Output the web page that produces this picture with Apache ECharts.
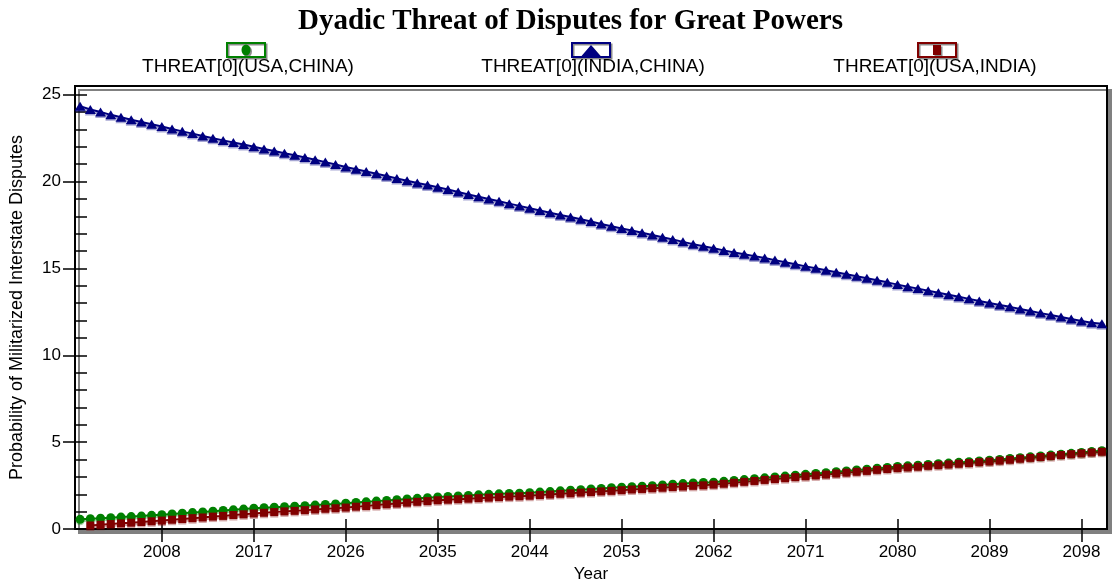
<!DOCTYPE html>
<html>
<head>
<meta charset="utf-8">
<script src="https://cdn.jsdelivr.net/npm/echarts@6/dist/echarts.min.js"></script>
<style>
html,body{margin:0;padding:0;background:#fff;}
#chart{width:1112px;height:588px;}
</style>
</head>
<body>
<div id="chart"></div>
<script>
const titleText = 'Dyadic Threat of Disputes for Great Powers';
const xAxisName = 'Year';
const yAxisName = 'Probability of Militarized Interstate Disputes';
const seriesNames = ['THREAT[0](USA,CHINA)', 'THREAT[0](INDIA,CHINA)', 'THREAT[0](USA,INDIA)'];
const firstYear = 2000, lastYear = 2100;
const years = [];
for (let y = firstYear; y <= lastYear; y++) years.push(String(y));
const xTickLabels = ['2008','2017','2026','2035','2044','2053','2062','2071','2080','2089','2098'];
const yTickStep = 5;

const usaChina = [
0.56,0.60,0.63,0.66,0.69,0.72,0.75,0.79,0.83,0.87,
0.91,0.95,0.99,1.03,1.07,1.11,1.15,1.20,1.23,1.26,
1.29,1.32,1.35,1.38,1.42,1.45,1.49,1.53,1.57,1.61,
1.65,1.69,1.73,1.77,1.81,1.85,1.88,1.91,1.94,1.97,
2.00,2.03,2.05,2.07,2.09,2.13,2.16,2.20,2.24,2.27,
2.31,2.34,2.38,2.41,2.44,2.47,2.50,2.54,2.58,2.62,
2.66,2.68,2.70,2.75,2.80,2.85,2.90,2.95,3.00,3.05,
3.10,3.15,3.20,3.25,3.30,3.35,3.40,3.45,3.50,3.55,
3.60,3.64,3.68,3.72,3.76,3.80,3.84,3.88,3.92,3.96,
4.01,4.06,4.11,4.16,4.21,4.26,4.31,4.36,4.41,4.46,
4.51];

const indiaChina = [
24.34,24.15,24.00,23.84,23.70,23.56,23.43,23.30,23.17,23.03,
22.89,22.76,22.62,22.49,22.37,22.25,22.13,22.00,21.88,21.76,
21.63,21.51,21.38,21.25,21.12,20.98,20.84,20.71,20.58,20.45,
20.32,20.18,20.05,19.92,19.80,19.67,19.54,19.40,19.26,19.13,
19.00,18.87,18.73,18.60,18.47,18.34,18.21,18.08,17.96,17.83,
17.70,17.56,17.43,17.30,17.18,17.05,16.93,16.80,16.67,16.53,
16.40,16.28,16.16,16.04,15.92,15.82,15.71,15.60,15.48,15.36,
15.24,15.12,15.01,14.90,14.78,14.67,14.55,14.44,14.32,14.20,
14.07,13.95,13.84,13.72,13.60,13.49,13.37,13.25,13.13,13.01,
12.90,12.79,12.67,12.55,12.43,12.32,12.21,12.09,11.98,11.88,
11.82];

const usaIndia = [
null,0.21,0.25,0.29,0.33,0.37,0.41,0.45,0.49,0.54,
0.58,0.63,0.67,0.72,0.76,0.81,0.85,0.90,0.94,0.98,
1.02,1.05,1.09,1.13,1.17,1.20,1.24,1.29,1.33,1.38,
1.43,1.47,1.52,1.57,1.61,1.66,1.69,1.72,1.75,1.78,
1.81,1.84,1.87,1.89,1.92,1.96,1.99,2.03,2.06,2.10,
2.13,2.17,2.20,2.24,2.28,2.31,2.35,2.38,2.42,2.45,
2.49,2.52,2.56,2.61,2.67,2.72,2.77,2.83,2.88,2.93,
2.99,3.04,3.09,3.14,3.20,3.25,3.30,3.35,3.41,3.46,
3.51,3.55,3.59,3.64,3.68,3.72,3.76,3.80,3.85,3.89,
3.94,3.99,4.05,4.10,4.15,4.20,4.26,4.31,4.36,4.41,
4.45];

const colors = ['#008000', '#000080', '#800000'];
const shadowColors = ['rgba(0,128,0,0.35)', 'rgba(0,0,128,0.35)', 'rgba(128,0,0,0.35)'];
const symbols = ['circle', 'triangle', 'rect'];
const symbolSizes = [9, [11, 9], 8];

const box = 'M0 0 L40 0 L40 16 L0 16 Z M2 2 L2 14 L38 14 L38 2 Z ';
const legendIcons = [
  'path://' + box + 'M15.5 8 A4.5 5.5 0 1 1 24.5 8 A4.5 5.5 0 1 1 15.5 8 Z',
  'path://' + box + 'M10.5 14 L20 3 L29.5 14 Z',
  'path://' + box + 'M16 3 L24 3 L24 13 L16 13 Z'
];
const legendLeft = [226, 571, 917];
const legendTextX = [248, 593, 935];

const font = 'Liberation Sans, Arial, sans-serif';
const isTickYear = (idx, val) => xTickLabels.indexOf(String(val)) >= 0;

const chart = echarts.init(document.getElementById('chart'), null, {renderer: 'canvas'});
chart.setOption({
  animation: false,
  backgroundColor: '#fff',
  title: {
    text: titleText, left: 298, top: 7, padding: 0,
    textStyle: {fontFamily: 'Liberation Serif, Times New Roman, serif', fontWeight: 'bold', fontSize: 29, color: '#000'}
  },
  legend: seriesNames.map((n, i) => ({
    data: [n], left: legendLeft[i], top: 42, padding: 0,
    itemWidth: 40, itemHeight: 16, icon: legendIcons[i],
    formatter: () => '',
    selectedMode: false,
    itemStyle: {color: colors[i], borderWidth: 0, shadowColor: 'rgba(0,0,0,0.45)', shadowOffsetX: 1.5, shadowOffsetY: 1.5, shadowBlur: 0}
  })),
  graphic: seriesNames.map((n, i) => ({
    type: 'text', x: legendTextX[i], y: 67,
    style: {text: n, fill: '#000', fontSize: 19, fontFamily: font, align: 'center', verticalAlign: 'middle', textAlign: 'center', textVerticalAlign: 'middle'}
  })),
  grid: {
    left: 75, right: 5, top: 86, bottom: 51, show: true,
    backgroundColor: '#fff', borderColor: '#000', borderWidth: 2,
    shadowColor: '#808080', shadowOffsetX: 4, shadowOffsetY: 4, shadowBlur: 0
  },
  xAxis: [
    {
      type: 'category', data: years, boundaryGap: true, position: 'bottom',
      name: xAxisName, nameLocation: 'middle', nameGap: 33,
      nameTextStyle: {fontFamily: font, fontSize: 17, color: '#000'},
      axisLine: {lineStyle: {color: '#000', width: 2}},
      axisTick: {show: true, inside: false, length: 13, alignWithLabel: true, interval: isTickYear, lineStyle: {color: '#000', width: 1.5}},
      axisLabel: {interval: isTickYear, margin: 15, fontFamily: font, fontSize: 17, color: '#000'},
      splitLine: {show: false}
    },
    {
      type: 'category', data: years, boundaryGap: true, position: 'bottom', offset: 0,
      axisLine: {show: false},
      axisTick: {show: true, inside: true, length: 10, alignWithLabel: true, interval: isTickYear, lineStyle: {color: '#000', width: 1.5}},
      axisLabel: {show: false},
      splitLine: {show: false}
    }
  ],
  yAxis: [
    {
      type: 'value', min: 0, max: 25.5, interval: yTickStep, position: 'left',
      name: yAxisName, nameLocation: 'middle', nameGap: 49,
      nameTextStyle: {fontFamily: font, fontSize: 18, color: '#000'},
      axisLine: {show: true, lineStyle: {color: '#000', width: 2}},
      axisTick: {show: true, inside: false, length: 12, lineStyle: {color: '#000', width: 1.5}},
      axisLabel: {margin: 14, fontFamily: font, fontSize: 17, color: '#000', showMaxLabel: false},
      splitLine: {show: false}
    },
    {
      type: 'value', min: 0, max: 25.5, interval: 1, position: 'left', offset: 0,
      axisLine: {show: false},
      axisTick: {show: true, inside: true, length: 12, lineStyle: {color: '#000', width: 1.5}},
      axisLabel: {show: false},
      splitLine: {show: false}
    }
  ],
  series: [usaChina, indiaChina, usaIndia].map((d, i) => ({
    name: seriesNames[i], type: 'line', data: d,
    xAxisIndex: 0, yAxisIndex: 0,
    symbol: symbols[i], symbolSize: symbolSizes[i], showSymbol: true, showAllSymbol: true,
    color: colors[i],
    lineStyle: {color: colors[i], width: 2, shadowColor: shadowColors[i], shadowOffsetY: 2, shadowBlur: 0},
    itemStyle: {color: colors[i], borderWidth: 0, shadowColor: shadowColors[i], shadowOffsetY: 1.5, shadowBlur: 0},
    emphasis: {disabled: true}
  }))
});
</script>
</body>
</html>
